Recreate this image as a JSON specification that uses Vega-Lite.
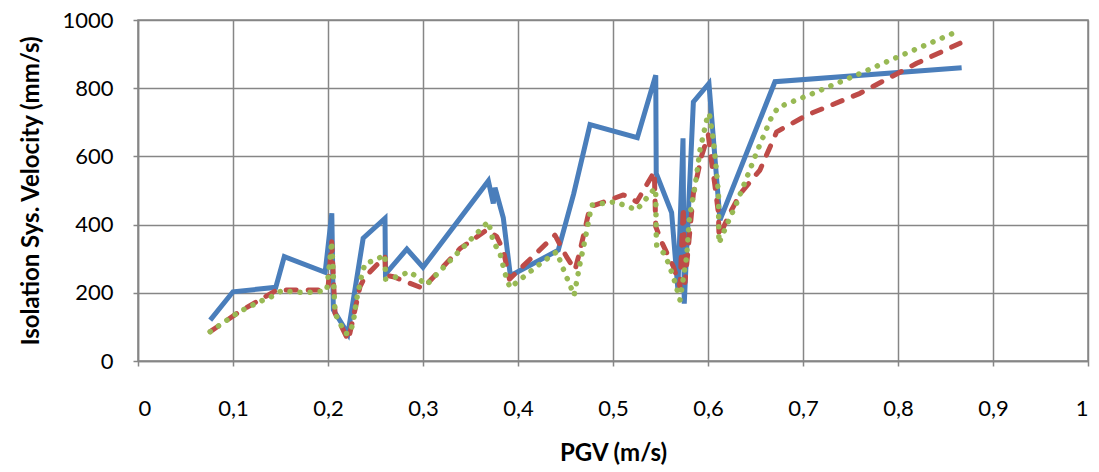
{
  "$schema": "https://vega.github.io/schema/vega-lite/v6.json",
  "width": 950,
  "height": 341,
  "autosize": "none",
  "padding": {"left": 138, "top": 20, "right": 11, "bottom": 111},
  "background": "white",
  "config": {
    "font": "Lato",
    "view": {"stroke": "#868686", "strokeWidth": 1.5},
    "axis": {
      "gridColor": "#868686",
      "gridWidth": 1.5,
      "gridOpacity": 1,
      "domainColor": "#868686",
      "domainWidth": 1.5,
      "tickColor": "#868686",
      "tickWidth": 1.5,
      "tickSize": 5,
      "labelColor": "#000000",
      "labelFontSize": 22,
      "labelFont": "Lato",
      "titleColor": "#000000",
      "titleFont": "Lato",
      "titleFontSize": 24,
      "titleFontWeight": "bold"
    }
  },
  "datasets": {
    "blue": [
      {"pgv": 0.076, "v": 120}, {"pgv": 0.100, "v": 203}, {"pgv": 0.145, "v": 216},
      {"pgv": 0.154, "v": 306}, {"pgv": 0.197, "v": 260}, {"pgv": 0.204, "v": 433},
      {"pgv": 0.2056, "v": 150}, {"pgv": 0.221, "v": 80}, {"pgv": 0.237, "v": 360},
      {"pgv": 0.260, "v": 418}, {"pgv": 0.2605, "v": 255}, {"pgv": 0.283, "v": 328},
      {"pgv": 0.300, "v": 275}, {"pgv": 0.3688, "v": 528}, {"pgv": 0.374, "v": 462},
      {"pgv": 0.3758, "v": 508}, {"pgv": 0.3845, "v": 420}, {"pgv": 0.392, "v": 250},
      {"pgv": 0.4424, "v": 325}, {"pgv": 0.4586, "v": 490}, {"pgv": 0.4758, "v": 693},
      {"pgv": 0.5256, "v": 655}, {"pgv": 0.545, "v": 838}, {"pgv": 0.5455, "v": 550},
      {"pgv": 0.5617, "v": 435}, {"pgv": 0.5683, "v": 210}, {"pgv": 0.5737, "v": 653},
      {"pgv": 0.575, "v": 168}, {"pgv": 0.5846, "v": 760}, {"pgv": 0.601, "v": 814},
      {"pgv": 0.6126, "v": 413}, {"pgv": 0.6705, "v": 819}, {"pgv": 0.867, "v": 860}
    ],
    "red": [
      {"pgv": 0.076, "v": 86}, {"pgv": 0.107, "v": 145}, {"pgv": 0.125, "v": 174},
      {"pgv": 0.146, "v": 208}, {"pgv": 0.1916, "v": 208}, {"pgv": 0.200, "v": 213},
      {"pgv": 0.2039, "v": 350}, {"pgv": 0.2074, "v": 140}, {"pgv": 0.2214, "v": 60},
      {"pgv": 0.2337, "v": 218}, {"pgv": 0.239, "v": 247}, {"pgv": 0.260, "v": 306},
      {"pgv": 0.2605, "v": 252}, {"pgv": 0.2688, "v": 247}, {"pgv": 0.300, "v": 213},
      {"pgv": 0.339, "v": 330}, {"pgv": 0.367, "v": 384}, {"pgv": 0.3776, "v": 365},
      {"pgv": 0.3845, "v": 325}, {"pgv": 0.391, "v": 240}, {"pgv": 0.4389, "v": 369},
      {"pgv": 0.451, "v": 306}, {"pgv": 0.46, "v": 267}, {"pgv": 0.465, "v": 320},
      {"pgv": 0.4758, "v": 452}, {"pgv": 0.511, "v": 487}, {"pgv": 0.525, "v": 467},
      {"pgv": 0.5435, "v": 555}, {"pgv": 0.545, "v": 394}, {"pgv": 0.551, "v": 350},
      {"pgv": 0.5635, "v": 277}, {"pgv": 0.5705, "v": 218}, {"pgv": 0.574, "v": 452},
      {"pgv": 0.5758, "v": 230}, {"pgv": 0.5846, "v": 491}, {"pgv": 0.593, "v": 599},
      {"pgv": 0.6003, "v": 663}, {"pgv": 0.6035, "v": 589}, {"pgv": 0.607, "v": 521},
      {"pgv": 0.611, "v": 433}, {"pgv": 0.6116, "v": 364}, {"pgv": 0.623, "v": 433},
      {"pgv": 0.634, "v": 491}, {"pgv": 0.6547, "v": 560}, {"pgv": 0.6723, "v": 672},
      {"pgv": 0.704, "v": 721}, {"pgv": 0.76, "v": 785}, {"pgv": 0.8197, "v": 873},
      {"pgv": 0.8653, "v": 932}
    ],
    "green": [
      {"pgv": 0.076, "v": 86}, {"pgv": 0.0863, "v": 106}, {"pgv": 0.107, "v": 145},
      {"pgv": 0.128, "v": 174}, {"pgv": 0.1407, "v": 189}, {"pgv": 0.151, "v": 206},
      {"pgv": 0.176, "v": 200}, {"pgv": 0.1986, "v": 206}, {"pgv": 0.2039, "v": 350},
      {"pgv": 0.2074, "v": 140}, {"pgv": 0.218, "v": 81}, {"pgv": 0.223, "v": 81},
      {"pgv": 0.2267, "v": 115}, {"pgv": 0.23, "v": 179}, {"pgv": 0.2355, "v": 252},
      {"pgv": 0.239, "v": 286}, {"pgv": 0.2495, "v": 296}, {"pgv": 0.260, "v": 311},
      {"pgv": 0.2605, "v": 240}, {"pgv": 0.267, "v": 242}, {"pgv": 0.2863, "v": 262},
      {"pgv": 0.3035, "v": 223}, {"pgv": 0.3688, "v": 409}, {"pgv": 0.374, "v": 350},
      {"pgv": 0.381, "v": 316}, {"pgv": 0.3863, "v": 257}, {"pgv": 0.3916, "v": 215},
      {"pgv": 0.402, "v": 238}, {"pgv": 0.4214, "v": 281}, {"pgv": 0.4407, "v": 320},
      {"pgv": 0.4495, "v": 257}, {"pgv": 0.4547, "v": 223}, {"pgv": 0.459, "v": 192},
      {"pgv": 0.4653, "v": 286}, {"pgv": 0.4705, "v": 355}, {"pgv": 0.4775, "v": 457},
      {"pgv": 0.502, "v": 467}, {"pgv": 0.525, "v": 443}, {"pgv": 0.5337, "v": 472},
      {"pgv": 0.541, "v": 497}, {"pgv": 0.5449, "v": 506}, {"pgv": 0.5455, "v": 374},
      {"pgv": 0.546, "v": 340}, {"pgv": 0.555, "v": 311}, {"pgv": 0.5635, "v": 247},
      {"pgv": 0.567, "v": 213}, {"pgv": 0.5705, "v": 179}, {"pgv": 0.5775, "v": 306},
      {"pgv": 0.5805, "v": 423}, {"pgv": 0.5863, "v": 511}, {"pgv": 0.5916, "v": 619},
      {"pgv": 0.5986, "v": 707}, {"pgv": 0.6014, "v": 726}, {"pgv": 0.6056, "v": 648},
      {"pgv": 0.609, "v": 555}, {"pgv": 0.611, "v": 491}, {"pgv": 0.6115, "v": 345},
      {"pgv": 0.6197, "v": 399}, {"pgv": 0.630, "v": 462}, {"pgv": 0.653, "v": 624},
      {"pgv": 0.667, "v": 716}, {"pgv": 0.674, "v": 744}, {"pgv": 0.709, "v": 783},
      {"pgv": 0.755, "v": 837}, {"pgv": 0.800, "v": 892}, {"pgv": 0.858, "v": 961}
    ]
  },
  "encoding": {
    "x": {
      "field": "pgv",
      "type": "quantitative",
      "scale": {"domain": [0, 1], "nice": false, "zero": false},
      "axis": {
        "title": "PGV (m/s)",
        "values": [0, 0.1, 0.2, 0.3, 0.4, 0.5, 0.6, 0.7, 0.8, 0.9, 1],
        "labelExpr": "replace(format(datum.value, '~g'), '.', ',')",
        "labelPadding": 32,
        "titlePadding": 22
      }
    },
    "y": {
      "field": "v",
      "type": "quantitative",
      "scale": {"domain": [0, 1000], "nice": false},
      "axis": {
        "title": "Isolation Sys. Velocity (mm/s)",
        "values": [0, 200, 400, 600, 800, 1000],
        "format": "d",
        "labelPadding": 20,
        "titlePadding": 18
      }
    }
  },
  "layer": [
    {
      "data": {"name": "blue"},
      "mark": {"type": "line", "color": "#4A7EBB", "strokeWidth": 5, "strokeJoin": "miter", "strokeCap": "butt"}
    },
    {
      "data": {"name": "red"},
      "mark": {"type": "line", "color": "#BE4B48", "strokeWidth": 5, "strokeCap": "round", "strokeJoin": "round", "strokeDash": [10, 12]}
    },
    {
      "data": {"name": "green"},
      "mark": {"type": "line", "color": "#98B954", "strokeWidth": 5.5, "strokeCap": "round", "strokeJoin": "round", "strokeDash": [0.1, 10]}
    }
  ]
}
